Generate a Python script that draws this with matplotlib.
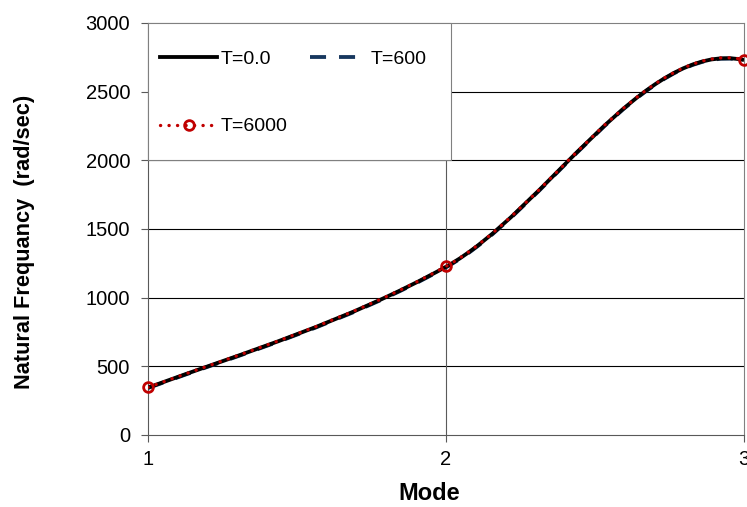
import matplotlib
matplotlib.use("Agg")
import matplotlib.pyplot as plt
from matplotlib.path import Path
from matplotlib.patches import PathPatch, Rectangle
from matplotlib.lines import Line2D

plt.rcParams['font.family'] = ['Liberation Sans', 'DejaVu Sans']

# ---- data ----
modes = [1, 2, 3]
freq_T0 = [345, 1225, 2730]
freq_T600 = [342, 1221, 2727]
freq_T6000 = [347, 1228, 2733]
# tangent slopes of the smoothed curve at each mode (rad/sec per mode)
slopes = [790, 1200, -480]
labels = ['T=0.0', 'T=600', 'T=6000']
yticks = [0, 500, 1000, 1500, 2000, 2500, 3000]
xticks = [1, 2, 3]

navy = '#17375E'
red = '#C00000'


def smooth_path(x, y, m):
    verts = [(x[0], y[0])]
    codes = [Path.MOVETO]
    for i in range(len(x) - 1):
        h = x[i + 1] - x[i]
        verts += [(x[i] + h / 3, y[i] + m[i] * h / 3),
                  (x[i + 1] - h / 3, y[i + 1] - m[i + 1] * h / 3),
                  (x[i + 1], y[i + 1])]
        codes += [Path.CURVE4] * 3
    return Path(verts, codes)


fig = plt.figure(figsize=(7.47, 5.07), dpi=100)
ax = fig.add_axes([148 / 747, 1 - 435 / 507, 596 / 747, 412 / 507])
ax.set_xlim(1, 3)
ax.set_ylim(0, 3000)
ax.set_axisbelow(True)

# gridlines
for yv in yticks[1:-1]:
    ax.axhline(yv, color='#000000', lw=0.8, zorder=0.5)
ax.axvline(2, color='#5a5a5a', lw=0.8, zorder=0.5)

lw = 2.75
ls_dash = (0, (4.2, 3.4))
ls_dot = (0, (0.05, 2.5))

p600 = PathPatch(smooth_path(modes, freq_T600, slopes), fill=False, edgecolor=navy,
                 lw=lw, linestyle=ls_dash, zorder=3)
p0 = PathPatch(smooth_path(modes, freq_T0, slopes), fill=False, edgecolor='black',
               lw=lw, zorder=3.2, capstyle='butt')
p6000 = PathPatch(smooth_path(modes, freq_T6000, slopes), fill=False, edgecolor=red,
                  lw=2.4, linestyle=ls_dot, capstyle='round', zorder=3.4)
for p in (p600, p0, p6000):
    ax.add_patch(p)
ax.plot(modes, freq_T6000, linestyle='none', marker='o', ms=7, mfc='none',
        mec=red, mew=2, zorder=4, clip_on=False)

# spines & ticks
for s in ('left', 'bottom'):
    ax.spines[s].set_color('#595959')
    ax.spines[s].set_linewidth(0.8)
for s in ('top', 'right'):
    ax.spines[s].set_color('#808080')
    ax.spines[s].set_linewidth(0.8)
ax.set_yticks(yticks)
ax.set_xticks(xticks)
ax.tick_params(axis='both', direction='out', length=4.7, width=0.8, color='#595959',
               labelsize=14.5, labelcolor='black')
ax.tick_params(axis='y', pad=8.2)
ax.tick_params(axis='x', pad=6)

ax.set_xlabel('Mode', fontsize=17, fontweight='bold', va='center', ha='center')
ax.xaxis.set_label_coords(0.471, -0.143)
ax.set_ylabel('Natural Frequancy  (rad/sec)', fontsize=15.7, fontweight='bold',
              va='center', ha='center')
ax.yaxis.set_label_coords(-0.208, 0.469)

# legend box
box = Rectangle((0, 2 / 3), 0.508, 1 / 3, transform=ax.transAxes, facecolor='white',
                edgecolor='#808080', lw=0.8, zorder=4.5, clip_on=False)
ax.add_patch(box)
h0 = Line2D([], [], color='black', lw=lw)
h600 = Line2D([], [], color=navy, lw=lw, linestyle=ls_dash)
h6000 = Line2D([], [], color=red, lw=2.4, linestyle=ls_dot, dash_capstyle='round',
               marker='o', ms=7, mfc='none', mec=red, mew=2)
# column-major filling: column 1 = T=0.0, T=6000 ; column 2 = T=600
leg = ax.legend([h0, h6000, h600], [labels[0], labels[2], labels[1]],
                loc='upper left', bbox_to_anchor=(0.02, 0.933),
                ncol=2, frameon=False, fontsize=14, borderpad=0, borderaxespad=0,
                handlelength=2.95, handletextpad=0.15, columnspacing=1.2,
                labelspacing=2.55, numpoints=1)
leg.set_zorder(5)

fig.savefig('out.png', dpi=100)
